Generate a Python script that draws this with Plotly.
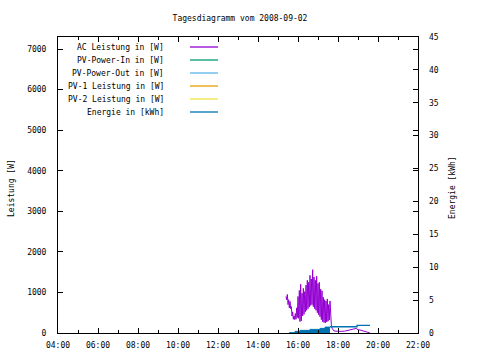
import plotly.graph_objects as go

DAY = "2008-09-02 "

ac_times = ["15:24","15:26","15:28","15:30","15:32","15:34","15:36","15:38","15:40","15:42",
            "15:44","15:46","15:48","15:50","15:52","15:54","15:56","15:58","16:00","16:02",
            "16:04","16:06","16:08","16:10","16:12","16:14","16:16","16:18","16:20","16:22",
            "16:24","16:26","16:28","16:30","16:32","16:34","16:36","16:38","16:40","16:42",
            "16:44","16:46","16:48","16:50","16:52","16:54","16:56","16:58","17:00","17:02",
            "17:04","17:06","17:08","17:10","17:12","17:14","17:16","17:18","17:20","17:22",
            "17:24","17:26","17:28","17:30","17:32","17:34","17:36","17:38","17:40","17:42",
            "17:45","17:48","17:54","18:00","18:10","18:20","18:30","18:40","18:48","18:54",
            "19:00","19:06","19:12","19:18","19:24","19:30","19:36"]
ac_values = [900,820,950,700,820,620,780,600,650,420,
             520,340,420,330,480,340,620,380,900,360,
             1050,280,1200,300,980,420,1100,460,1020,520,
             1180,560,1300,600,1250,640,1420,680,1330,700,
             1560,650,1380,600,1300,560,1400,500,1220,450,
             1250,400,1080,330,1040,280,880,260,820,250,
             790,270,840,290,700,320,790,300,200,120,
             80,50,45,50,40,45,60,70,100,115,
             80,75,60,30,20,10,0]

energy_fill_times = ["15:33","15:51","16:06","16:36","17:06","17:21","17:36"]
energy_fill_values = [0.05,0.25,0.4,0.55,0.7,0.9,0.9]
energy_line_times = ["17:36","18:57","19:36"]
energy_line_values = [0.95,1.15,1.15]

legend_labels = ["AC Leistung in [W]", "PV-Power-In in [W]", "PV-Power-Out in [W]",
                 "PV-1 Leistung in [W]", "PV-2 Leistung in [W]", "Energie in [kWh]"]
legend_colors = ["#9400d3", "#009e73", "#56b4e9", "#e69f00", "#f0e442", "#0072b2"]

left_ticks = [0, 1000, 2000, 3000, 4000, 5000, 6000, 7000]
right_ticks = [0, 5, 10, 15, 20, 25, 30, 35, 40, 45]

FONT = dict(family="DejaVu Sans Mono", size=8, color="black")

fig = go.Figure()
fig.add_trace(go.Scatter(x=[DAY + t for t in energy_fill_times], y=energy_fill_values,
                         yaxis="y2", mode="lines", line=dict(color="#0072b2", width=1, shape="hv"),
                         fill="tozeroy", fillcolor="#0072b2", showlegend=False))
fig.add_trace(go.Scatter(x=[DAY + t for t in energy_line_times], y=energy_line_values,
                         yaxis="y2", mode="lines", line=dict(color="#0072b2", width=1.3, shape="hv"),
                         showlegend=False))
fig.add_trace(go.Scatter(x=[DAY + t for t in ac_times], y=ac_values, mode="lines",
                         line=dict(color="#9400d3", width=1), showlegend=False))

L, R, T, B = 58, 418, 37, 333
W, H = R - L, B - T

def px(x):
    return (x - L) / W

def py(y):
    return (B - y) / H

rows = [47, 60, 73, 86, 99, 112]
for lab, col, ry in zip(legend_labels, legend_colors, rows):
    fig.add_annotation(text=lab, xref="paper", yref="paper", x=px(166), y=py(ry),
                       xanchor="right", yanchor="middle", showarrow=False, font=FONT)
    fig.add_shape(type="line", xref="paper", yref="paper", x0=px(190), x1=px(218),
                  y0=py(ry), y1=py(ry), line=dict(color=col, width=1.3))

fig.add_annotation(text="Leistung [W]", xref="paper", yref="paper", x=px(11), y=py(188),
                   textangle=-90, showarrow=False, xanchor="center", yanchor="middle", font=FONT)
fig.add_annotation(text="Energie [kWh]", xref="paper", yref="paper", x=px(452), y=py(188),
                   textangle=-90, showarrow=False, xanchor="center", yanchor="middle", font=FONT)

fig.update_layout(
    width=480, height=360,
    margin=dict(l=L, r=480 - R, t=T, b=360 - B, autoexpand=False),
    paper_bgcolor="white", plot_bgcolor="white",
    font=FONT,
    title=dict(text="Tagesdiagramm vom 2008-09-02", x=0.5, xanchor="center",
               y=1 - 18 / 360, yanchor="middle", font=FONT),
    showlegend=False,
    xaxis=dict(type="date", range=[DAY + "04:00", DAY + "22:00"],
               dtick=7200000, tick0=DAY + "04:00", tickformat="%H:%M",
               ticks="inside", ticklen=5, tickcolor="black", showline=True, linecolor="black",
               linewidth=1, mirror="ticks", showgrid=False, zeroline=False, automargin=False,
               minor=dict(dtick=3600000, ticks="inside", ticklen=3, tickcolor="black", showgrid=False),
               ticklabelstandoff=4),
    yaxis=dict(range=[0, 7296], tickvals=left_ticks, ticks="inside", ticklen=5,
               tickcolor="black", showline=True, linecolor="black", linewidth=1, automargin=False,
               mirror="ticks", showgrid=False, zeroline=False, ticklabelstandoff=9),
    yaxis2=dict(range=[0, 45], tickvals=right_ticks, overlaying="y", side="right",
                ticks="inside", ticklen=5, tickcolor="black", showline=False, automargin=False,
                showgrid=False, zeroline=False, ticklabelstandoff=10),
)

fig.write_html("out.html", config={"displayModeBar": False},
               post_script="document.body.style.margin='0px';")
